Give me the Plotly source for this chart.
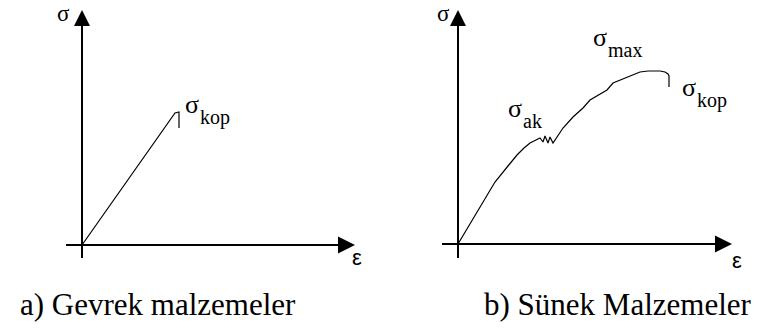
import plotly.graph_objects as go

# ---- data (arbitrary strain / stress units) ----
# Panel a: brittle material (Gevrek)
brittle_strain = [0, 93, 97, 97]
brittle_stress = [0, 132, 133, 117]

# Panel b: ductile material (Sünek)
ductile_strain = [0, 19, 37, 50, 59, 66, 72, 78, 82, 85, 87, 90, 92, 95, 97,
                  105, 115, 125, 132, 141, 149, 155, 162, 170, 175, 182, 190,
                  202, 207, 210, 211, 211]
ductile_stress = [0, 32, 62, 78, 89, 96, 101, 104, 106, 102, 108, 101, 107, 101, 104,
                  116, 127, 136, 144, 149, 154, 161, 164, 167, 169, 172, 173,
                  173, 172, 170, 168, 157]

# axis extents (arrow tips) per panel
axis_x_min = [-16, -16]
axis_x_tip = [273, 274]
axis_y_min = [-13, -14]
axis_y_tip = [235, 234]

captions = ["a) Gevrek malzemeler", "b) Sünek Malzemeler"]

# labels: (panel, main symbol, subscript, x, y)
sigma_labels = [
    (1, "σ", "kop", 110, 137),
    (2, "σ", "ak", 57, 132),
    (2, "σ", "max", 142, 203),
    (2, "σ", "kop", 231, 153),
]

W, H = 760, 329

fig = go.Figure()

line_style = dict(color="black", width=1.2)
axis_style = dict(color="black", width=2)

for i, (xs, ys) in enumerate([(brittle_strain, brittle_stress), (ductile_strain, ductile_stress)]):
    xa = "x" if i == 0 else "x2"
    ya = "y" if i == 0 else "y2"
    fig.add_trace(go.Scatter(x=[axis_x_min[i], axis_x_tip[i] - 12], y=[0, 0], mode="lines",
                             line=axis_style, xaxis=xa, yaxis=ya, hoverinfo="skip"))
    fig.add_trace(go.Scatter(x=[0, 0], y=[axis_y_min[i], axis_y_tip[i] - 12], mode="lines",
                             line=axis_style, xaxis=xa, yaxis=ya, hoverinfo="skip"))
    fig.add_trace(go.Scatter(x=[axis_x_tip[i]], y=[0], mode="markers",
                             marker=dict(symbol="arrow-right", size=17, color="black",
                                         line=dict(width=0)),
                             xaxis=xa, yaxis=ya, hoverinfo="skip"))
    fig.add_trace(go.Scatter(x=[0], y=[axis_y_tip[i]], mode="markers",
                             marker=dict(symbol="arrow-up", size=16, color="black",
                                         line=dict(width=0)),
                             xaxis=xa, yaxis=ya, hoverinfo="skip"))
    fig.add_trace(go.Scatter(x=xs, y=ys, mode="lines", line=line_style,
                             xaxis=xa, yaxis=ya, hoverinfo="skip"))

annotations = []
serif = "Liberation Serif"
# axis symbols: sigma at top of each y axis, epsilon at end of each x axis
for p, (sx, ex, ey) in zip([1, 2], [(-19, 275, -14), (-15, 279, -18)]):
    xr = "x" if p == 1 else "x2"
    yr = "y" if p == 1 else "y2"
    annotations.append(dict(x=sx, y=1, xref=xr, yref="paper", text="σ", showarrow=False,
                            font=dict(family=serif, size=23, color="black"),
                            xanchor="center", yanchor="top", borderpad=0))
    annotations.append(dict(x=ex, y=ey, xref=xr, yref=yr, text="ε", showarrow=False,
                            font=dict(family="Liberation Sans", size=22, color="black"),
                            xanchor="center", yanchor="middle", yshift=2))

for p, main, sub, x, y in sigma_labels:
    xr = "x" if p == 1 else "x2"
    yr = "y" if p == 1 else "y2"
    annotations.append(dict(x=x, y=y, xref=xr, yref=yr, text=main, showarrow=False,
                            font=dict(family=serif, size=26, color="black"),
                            xanchor="center", yanchor="middle", yshift=4))
    annotations.append(dict(x=x + 6, y=y - 9, xref=xr, yref=yr, text=sub, showarrow=False,
                            font=dict(family=serif, size=20, color="black"),
                            xanchor="left", yanchor="middle"))

annotations.append(dict(x=18 / W, y=1 - 304 / H, xref="paper", yref="paper",
                        text=captions[0], showarrow=False,
                        font=dict(family=serif, size=31, color="black"),
                        xanchor="left", yanchor="middle"))
annotations.append(dict(x=482 / W, y=1 - 304 / H, xref="paper", yref="paper",
                        text=captions[1], showarrow=False,
                        font=dict(family=serif, size=31, color="black"),
                        xanchor="left", yanchor="middle"))

hidden = dict(visible=False, showgrid=False, zeroline=False, fixedrange=True)
fig.update_layout(
    width=W, height=H,
    margin=dict(l=0, r=0, t=0, b=0),
    paper_bgcolor="white", plot_bgcolor="white",
    showlegend=False,
    hovermode=False,
    xaxis=dict(domain=[0, 0.5], range=[-82, 298], **hidden),
    yaxis=dict(domain=[0, 1], range=[-84, 245], **hidden),
    xaxis2=dict(domain=[0.5, 1], range=[-78, 302], anchor="y2", **hidden),
    yaxis2=dict(domain=[0, 1], range=[-85, 244], anchor="x2", **hidden),
    annotations=annotations,
)

fig.write_html("out.html", config={"displayModeBar": False, "staticPlot": True},
               post_script="document.body.style.margin='0';")
